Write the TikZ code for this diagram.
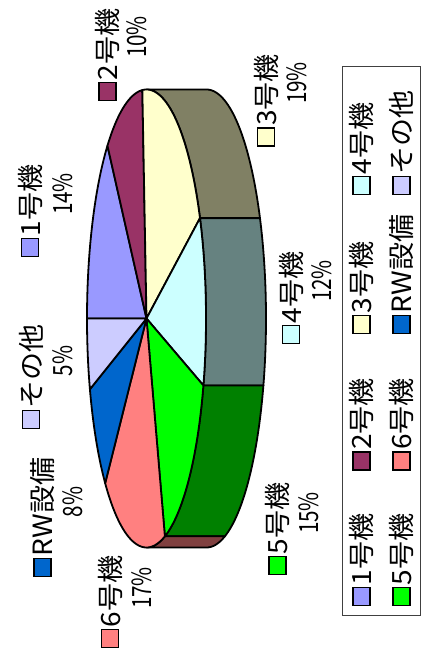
\documentclass[tikz,border=0pt]{standalone}
\usepackage{fontspec}
\usepackage{graphicx}
\setmainfont{Noto Sans CJK JP}
\definecolor{c1}{RGB}{153,153,255}
\definecolor{c2}{RGB}{153,51,102}
\definecolor{c3}{RGB}{255,255,204}
\definecolor{c4}{RGB}{204,255,255}
\definecolor{c5}{RGB}{0,255,0}
\definecolor{c6}{RGB}{255,128,128}
\definecolor{c7}{RGB}{0,102,204}
\definecolor{c8}{RGB}{204,204,255}
\definecolor{w3}{RGB}{128,128,100}
\definecolor{w4}{RGB}{102,130,128}
\definecolor{w5}{RGB}{0,128,0}
\definecolor{w6}{RGB}{128,64,64}
\def\cx{146.5}
\def\cy{318.5}
\def\rx{59.5}
\def\ry{229}
\def\dd{60}
\newcommand\faceslice[3]{\filldraw[fill=#1, pieline] (\cx,\cy) -- plot[domain=#2:#3, samples=60] ({\cx+\rx*cos(\x)},{\cy+\ry*sin(\x)}) -- cycle;}
\newcommand\wallpiece[3]{\filldraw[fill=#1, pieline] plot[domain=#2:#3, samples=50] ({\cx+\rx*cos(\x)},{\cy+\ry*sin(\x)}) -- plot[domain=#2:#3, samples=50] ({\cx+\dd+\rx*cos(#2+#3-\x)},{\cy+\ry*sin(#2+#3-\x)}) -- cycle;}
\newcommand\lstretch[1]{\scalebox{1.06}[1]{#1}}
\newcommand\pstretch[1]{\scalebox{0.78}[1]{#1}}
\tikzset{
  pieline/.style={draw=black, line width=1.8pt, line join=round},
  keybox/.style={draw=black, line width=1.3pt, minimum width=17pt, minimum height=18pt, inner sep=0pt},
  lbl/.style={rotate=90, inner sep=0pt, font=\fontsize{26.5}{30}\selectfont},
  legendframe/.style={draw=black!75, line width=0.9pt},
}
% #1 id, #2 colour, #3 name, #4 pct, #5 box x, #6 box y, #7 pct x, #8 pct y
\newcommand\plabel[8]{%
  \node[keybox, fill=#2] (#1k) at (#5,#6) {};
  \node[lbl, anchor=west] (#1t) at (#5,#6-11) {\lstretch{#3}};
  \node[lbl] (#1p) at (#7,#8) {\pstretch{#4}};
}
% #1 id, #2 colour, #3 name, #4 x, #5 y
\newcommand\legent[5]{%
  \node[keybox, fill=#2] (#1k) at (#4,#5) {};
  \node[lbl, anchor=west] (#1t) at (#4,#5-11) {\lstretch{#3}};
}
\begin{document}
\begin{tikzpicture}[x=1pt, y=-1pt]
\useasboundingbox (0,0) rectangle (430,661);
\fill[white] (0,0) rectangle (430,661);
% side walls
\wallpiece{w3}{-90}{-26}
\wallpiece{w4}{-26}{17}
\wallpiece{w5}{17}{72}
\wallpiece{w6}{72}{90}
% top face
\faceslice{c1}{180}{229}
\faceslice{c2}{229}{266}
\faceslice{c3}{266}{334}
\faceslice{c4}{334}{377}
\faceslice{c5}{377}{432}
\faceslice{c6}{432}{494}
\faceslice{c7}{494}{522}
\faceslice{c8}{522}{540}
% data labels
\plabel{l2}{c2}{2号機}{10\%}{107.5}{91.5}{137}{37}
\plabel{l3}{c3}{3号機}{19\%}{266}{137}{297}{83}
\plabel{l1}{c1}{1号機}{14\%}{30}{247.5}{62.5}{194}
\plabel{l8}{c8}{その他}{5\%}{31}{419.5}{62.5}{361}
\plabel{l7}{c7}{RW設備}{8\%}{42.5}{567.5}{73}{502}
\plabel{l6}{c6}{6号機}{17\%}{110}{638.5}{142}{588}
\plabel{l4}{c4}{4号機}{12\%}{291}{334.5}{322}{281}
\plabel{l5}{c5}{5号機}{15\%}{277.5}{565.5}{309}{513}
% legend
\draw[legendframe] (342,66.5) rectangle (420,615);
\legent{g1}{c1}{1号機}{361.5}{596.5}
\legent{g2}{c2}{2号機}{361.5}{461}
\legent{g3}{c3}{3号機}{361.5}{324.5}
\legent{g4}{c4}{4号機}{361.5}{185.5}
\legent{g5}{c5}{5号機}{401.5}{596.5}
\legent{g6}{c6}{6号機}{401.5}{461}
\legent{g7}{c7}{RW設備}{401.5}{324.5}
\legent{g8}{c8}{その他}{401.5}{185.5}
\end{tikzpicture}
\end{document}
